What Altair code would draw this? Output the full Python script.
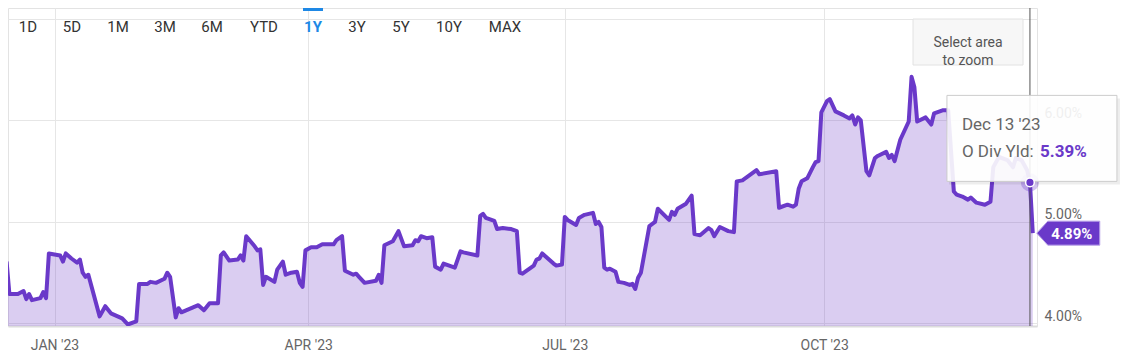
import altair as alt
import pandas as pd

# ---------------- data ----------------
dates = [
    "2022-12-15", "2022-12-16", "2022-12-19", "2022-12-21", "2022-12-22", "2022-12-23",
    "2022-12-24", "2022-12-27", "2022-12-28", "2022-12-29", "2022-12-30",
    "2023-01-03", "2023-01-04", "2023-01-05", "2023-01-07", "2023-01-09", "2023-01-10",
    "2023-01-11", "2023-01-12", "2023-01-13", "2023-01-17", "2023-01-19", "2023-01-21",
    "2023-01-25", "2023-01-27", "2023-01-30", "2023-01-31",
    "2023-02-03", "2023-02-04", "2023-02-06", "2023-02-09", "2023-02-10", "2023-02-11",
    "2023-02-13", "2023-02-14", "2023-02-15", "2023-02-21", "2023-02-23", "2023-02-25",
    "2023-02-28",
    "2023-03-01", "2023-03-02", "2023-03-04", "2023-03-07", "2023-03-08", "2023-03-09",
    "2023-03-10", "2023-03-13", "2023-03-14", "2023-03-15", "2023-03-16", "2023-03-17",
    "2023-03-20", "2023-03-21", "2023-03-23", "2023-03-24", "2023-03-26", "2023-03-28",
    "2023-03-29", "2023-03-30", "2023-03-31",
    "2023-04-02", "2023-04-04", "2023-04-06", "2023-04-10", "2023-04-11", "2023-04-13",
    "2023-04-14", "2023-04-17", "2023-04-18", "2023-04-19", "2023-04-21", "2023-04-25",
    "2023-04-26", "2023-04-27", "2023-04-28",
    "2023-05-01", "2023-05-02", "2023-05-03", "2023-05-05", "2023-05-08", "2023-05-09",
    "2023-05-10", "2023-05-11", "2023-05-13", "2023-05-15", "2023-05-16", "2023-05-18",
    "2023-05-19", "2023-05-23", "2023-05-25", "2023-05-26", "2023-05-31",
    "2023-06-01", "2023-06-02", "2023-06-03", "2023-06-06", "2023-06-07", "2023-06-09",
    "2023-06-12", "2023-06-14", "2023-06-15", "2023-06-16", "2023-06-20", "2023-06-21",
    "2023-06-22", "2023-06-23", "2023-06-27", "2023-06-28", "2023-06-30",
    "2023-07-01", "2023-07-02", "2023-07-05", "2023-07-06", "2023-07-08", "2023-07-11",
    "2023-07-12", "2023-07-13", "2023-07-14", "2023-07-15", "2023-07-16", "2023-07-17",
    "2023-07-19", "2023-07-20", "2023-07-22", "2023-07-24", "2023-07-25", "2023-07-26",
    "2023-07-27", "2023-07-28", "2023-07-31",
    "2023-08-02", "2023-08-03", "2023-08-07", "2023-08-08", "2023-08-09", "2023-08-10",
    "2023-08-13", "2023-08-15", "2023-08-16", "2023-08-18", "2023-08-21", "2023-08-22",
    "2023-08-23", "2023-08-25", "2023-08-28", "2023-08-30", "2023-08-31",
    "2023-09-02", "2023-09-07", "2023-09-08", "2023-09-14", "2023-09-15", "2023-09-18",
    "2023-09-20", "2023-09-21", "2023-09-22", "2023-09-23", "2023-09-25", "2023-09-27",
    "2023-09-28", "2023-09-29", "2023-09-30",
    "2023-10-02", "2023-10-03", "2023-10-05", "2023-10-08", "2023-10-10", "2023-10-11",
    "2023-10-12", "2023-10-13", "2023-10-14", "2023-10-16", "2023-10-17", "2023-10-19",
    "2023-10-20", "2023-10-23", "2023-10-24", "2023-10-25", "2023-10-26", "2023-10-28",
    "2023-10-31",
    "2023-11-01", "2023-11-02", "2023-11-03", "2023-11-06", "2023-11-08", "2023-11-09",
    "2023-11-12", "2023-11-14", "2023-11-16", "2023-11-17", "2023-11-19", "2023-11-21",
    "2023-11-22", "2023-11-24", "2023-11-27", "2023-11-29", "2023-11-30",
    "2023-12-02", "2023-12-05", "2023-12-07", "2023-12-08", "2023-12-10", "2023-12-12",
    "2023-12-13", "2023-12-14",
]
yields = [
    4.61, 4.29, 4.29, 4.32, 4.24, 4.29,
    4.23, 4.25, 4.31, 4.25, 4.69,
    4.67, 4.61, 4.69, 4.64, 4.60, 4.63,
    4.50, 4.46, 4.48, 4.07, 4.17, 4.10,
    4.05, 3.99, 4.02, 4.39,
    4.39, 4.41, 4.40, 4.44, 4.50, 4.46,
    4.06, 4.15, 4.11, 4.18, 4.13, 4.20,
    4.20,
    4.67, 4.70, 4.62, 4.63, 4.67, 4.62,
    4.86, 4.76, 4.72, 4.73, 4.38, 4.46,
    4.41, 4.53, 4.61, 4.48, 4.50, 4.51,
    4.40, 4.36, 4.72,
    4.75, 4.75, 4.78, 4.78, 4.82, 4.86,
    4.52, 4.48, 4.49, 4.46, 4.40, 4.42,
    4.48, 4.40, 4.77,
    4.81, 4.86, 4.91, 4.76, 4.77, 4.82,
    4.81, 4.86, 4.84, 4.85, 4.56, 4.53,
    4.59, 4.55, 4.71, 4.70, 4.67,
    5.06, 5.08, 5.04, 5.01, 4.93, 4.94,
    4.93, 4.91, 4.50, 4.49, 4.57, 4.63,
    4.64, 4.69, 4.59, 4.57, 4.58,
    5.05, 5.02, 4.97, 5.04, 5.07, 5.09,
    4.98, 5.00, 4.95, 4.55, 4.53, 4.54,
    4.51, 4.41, 4.40, 4.38, 4.39, 4.34,
    4.45, 4.50, 4.96,
    5.00, 5.13, 5.02, 5.10, 5.07, 5.13,
    5.18, 5.26, 4.88, 4.87, 4.94, 4.92,
    4.86, 4.95, 4.91, 4.90, 5.40,
    5.41, 5.51, 5.47, 5.50, 5.14, 5.17,
    5.15, 5.17, 5.33, 5.40, 5.43, 5.54,
    5.59, 5.60, 6.08,
    6.19, 6.21, 6.09, 6.05, 6.02, 6.05,
    5.96, 6.03, 6.00, 5.50, 5.46, 5.63,
    5.65, 5.69, 5.63, 5.66, 5.60, 5.81,
    5.99,
    6.43, 6.33, 5.99, 6.03, 5.96, 6.07,
    6.10, 6.10, 5.30, 5.27, 5.25, 5.22,
    5.24, 5.19, 5.17, 5.20, 5.54,
    5.64, 5.61, 5.54, 5.63, 5.61, 5.51,
    5.39, 4.89,
]

quarter_ticks = ["2023-01-01", "2023-04-01", "2023-07-01", "2023-10-01"]
yield_ticks = [4.0, 5.0, 6.0, 7.0]
range_buttons = ["1D", "5D", "1M", "3M", "6M", "YTD", "1Y", "3Y", "5Y", "10Y", "MAX"]
selected_range = "1Y"
series_label = "O Div Yld:"
hover_date = "2023-12-13"
zoom_hint = "Select area\nto zoom"

# ---------------- layout / style (not data) ----------------
button_px = [20, 64, 110, 157, 204, 256, 305, 349, 393, 441, 497]
PURPLE = "#6a39c9"
GRID = "#e6e6e6"
LABEL = "#666666"
W, H = 1029, 318

df = pd.DataFrame({"date": dates, "yield": yields})
hover_value = float(df.loc[df["date"] == hover_date, "yield"].iloc[0])
hover_df = pd.DataFrame({
    "date": [hover_date],
    "yield": [hover_value],
    "day_label": [pd.Timestamp(hover_date).strftime("%b %d '%y")],
    "series": [series_label],
    "value_text": [f"{hover_value:.2f}%"],
})
last_df = df.tail(1).copy()
last_df["value_text"] = last_df["yield"].map(lambda v: f"{v:.2f}%")
hint_df = pd.DataFrame({"hint": [zoom_hint]})


def dt(s, hours=0):
    t = pd.Timestamp(s)
    return alt.DateTime(year=t.year, month=t.month, date=t.day, hours=hours, utc=True)


x_scale = alt.Scale(type="utc", domain=[dt("2022-12-15", 12), dt("2023-12-15", 12)], nice=False)
y_scale = alt.Scale(domain=[3.975, 7.108], zero=False, nice=False)

x_axis = alt.Axis(
    values=[dt(q) for q in quarter_ticks], grid=True, gridColor=GRID, gridWidth=1,
    ticks=False, tickSize=0, domain=True, domainColor="#dcdcdc", domainWidth=2,
    labelExpr='upper(utcFormat(datum.value, "%b \'%y"))', labelFont="Roboto",
    labelFontSize=14, labelColor=LABEL, labelBaseline="alphabetic", labelPadding=23,
    labelAlign="center", labelFlush=False, labelOverlap=False, title=None,
)
y_axis = alt.Axis(
    orient="right", values=yield_ticks, grid=True, gridColor=GRID, gridWidth=1,
    ticks=False, tickSize=0, domain=False,
    labelExpr="datum.value >= 7 ? '' : format(datum.value, '.2f') + '%'",
    labelFont="Roboto", labelFontSize=14, labelColor=LABEL, labelBaseline="alphabetic",
    labelOffset=-3, labelPadding=7, labelOverlap=False, labelFlush=False, title=None,
)


# every layer carries the same scale and axis definition, so they merge cleanly
def X():
    return alt.X("date:T", scale=x_scale, axis=x_axis)


def Y():
    return alt.Y("yield:Q", scale=y_scale, axis=y_axis)


area = alt.Chart(df).mark_area(color=PURPLE, opacity=0.25, clip=True).encode(x=X(), y=Y())
line = alt.Chart(df).mark_line(color=PURPLE, strokeWidth=4, strokeJoin="round", clip=True).encode(
    x=X(), y=Y())

crosshair = alt.Chart(hover_df).mark_rule(color="#555555", strokeWidth=1).encode(x=X())
halo = alt.Chart(hover_df).mark_point(shape="circle", size=330, filled=True, color=PURPLE,
                                      opacity=0.3).encode(x=X(), y=Y())
tip_shadow = alt.Chart(hover_df).mark_point(shape="M-81,-84H90V2H-81Z", size=4, filled=True,
                                            color="#000000", opacity=0.07).encode(x=X(), y=Y())
tip_box = alt.Chart(hover_df).mark_point(shape="M-83,-87H87V-1H-83Z", size=4, filled=True,
                                         fill="#ffffff", fillOpacity=0.9, stroke="#cccccc",
                                         strokeWidth=1, opacity=1).encode(x=X(), y=Y())
dot = alt.Chart(hover_df).mark_point(shape="circle", size=75, filled=True, fill=PURPLE,
                                     stroke="#ffffff", strokeWidth=1.5, opacity=1).encode(x=X(), y=Y())
tip_date = alt.Chart(hover_df).mark_text(align="left", baseline="alphabetic", dx=-68, dy=-52,
                                         fontSize=17, font="Roboto", color=LABEL).encode(
    x=X(), y=Y(), text="day_label:N")
tip_series = alt.Chart(hover_df).mark_text(align="left", baseline="alphabetic", dx=-68, dy=-25,
                                           fontSize=17, font="Roboto", color=LABEL).encode(
    x=X(), y=Y(), text="series:N")
tip_value = alt.Chart(hover_df).mark_text(align="left", baseline="alphabetic", dx=10, dy=-25,
                                          fontSize=17, font="Roboto", fontWeight="bold",
                                          color=PURPLE).encode(x=X(), y=Y(), text="value_text:N")

badge = alt.Chart(last_df).mark_point(shape="M4,0L15,-12H67V12H15Z", size=4, filled=True,
                                      fill=PURPLE, stroke="#b8a2e8", strokeWidth=1,
                                      opacity=1).encode(x=X(), y=Y())
badge_text = alt.Chart(last_df).mark_text(align="center", baseline="middle", dx=39, dy=1,
                                          fontSize=15, font="Roboto", fontWeight="bold",
                                          color="#ffffff").encode(x=X(), y=Y(), text="value_text:N")

hint_box = alt.Chart(hint_df).mark_rect(fill="#f7f7f7", stroke="#e2e2e2", strokeWidth=1).encode(
    x=alt.value(905), x2=alt.value(1015), y=alt.value(11), y2=alt.value(57))
hint_text = alt.Chart(hint_df).mark_text(align="center", baseline="middle", lineBreak="\n",
                                         lineHeight=18, fontSize=14, font="Roboto",
                                         color="#555555").encode(
    x=alt.value(960), y=alt.value(35), text="hint:N")

# range selector buttons (UI chrome drawn in pixel space)
button_layers = []
for label, px in zip(range_buttons, button_px):
    sel = label == selected_range
    bdf = pd.DataFrame({"label": [label]})
    button_layers.append(
        alt.Chart(bdf).mark_text(
            align="center", baseline="middle", fontSize=15, font="Roboto",
            fontWeight="bold" if sel else "normal",
            color="#1e88e5" if sel else "#333333",
        ).encode(x=alt.value(px), y=alt.value(19), text="label:N")
    )
    if sel:
        button_layers.append(
            alt.Chart(bdf).mark_rect(color="#1e88e5").encode(
                x=alt.value(px - 10), x2=alt.value(px + 10), y=alt.value(0), y2=alt.value(3))
        )

chart = alt.layer(
    area, line, crosshair, halo, tip_shadow, tip_box, dot, tip_date, tip_series, tip_value,
    badge, badge_text, hint_box, hint_text, *button_layers,
).properties(
    width=W, height=H,
    autosize=alt.AutoSizeParams(type="none"),
    padding={"left": 0, "top": 0, "right": 96, "bottom": 28},
).configure(font="Roboto").configure_view(stroke="#e3e3e3", strokeWidth=1)

chart.save("out.html", embed_options={"renderer": "svg", "actions": False})
